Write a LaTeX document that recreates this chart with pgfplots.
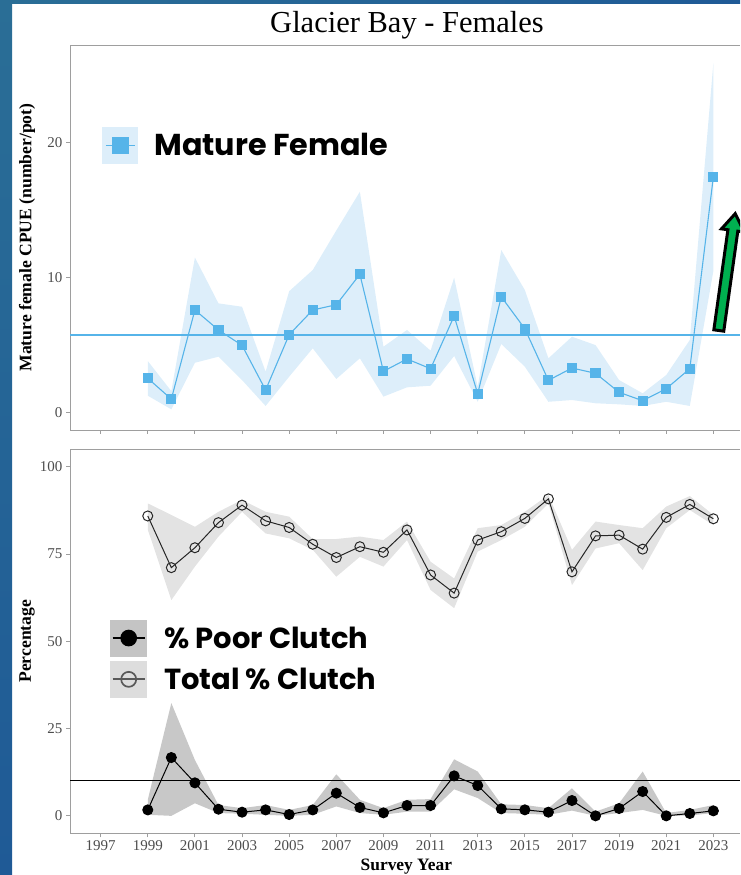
\documentclass[border=0pt]{standalone}
\usepackage{pgfplots}
\pgfplotsset{compat=1.18}
\usepackage{pgfplotstable}
\usepgfplotslibrary{fillbetween}
\usepackage{fontspec}
\setmainfont{Liberation Serif}
\newfontfamily\legfont{Poppins}
\definecolor{cpueblue}{HTML}{56B4E9}
\definecolor{bandblue}{HTML}{DDEEFA}
\definecolor{poorband}{HTML}{C8C8C8}
\definecolor{totband}{HTML}{E3E3E3}
\definecolor{legpoor}{HTML}{C4C4C4}
\definecolor{legtot}{HTML}{DDDDDD}
\definecolor{framegray}{HTML}{9E9E9E}
\definecolor{tickgray}{HTML}{4D4D4D}
\definecolor{slidetop}{HTML}{2A6E96}
\definecolor{slidemid}{HTML}{3399B5}
\definecolor{slidebot}{HTML}{1F5A96}
\definecolor{arrowgreen}{HTML}{00B050}

\pgfplotstableread{
year cpue lo hi
1999 2.55 1.26 3.83
2000 1.01 0.25 1.6
2001 7.61 3.7 11.5
2002 6.13 4.15 8.1
2003 4.99 2.42 7.85
2004 1.68 0.5 3.04
2005 5.78 2.67 9.0
2006 7.61 4.77 10.57
2007 8.0 2.5 13.5
2008 10.25 4.03 16.37
2009 3.07 1.19 4.89
2010 3.98 1.88 6.13
2011 3.26 2.0 4.6
2012 7.16 4.2 10.0
2013 1.41 0.81 1.93
2014 8.59 5.09 12.05
2015 6.22 3.41 9.09
2016 2.4 0.81 4.03
2017 3.31 0.94 5.63
2018 2.92 0.7 5.01
2019 1.51 0.62 2.42
2020 0.89 0.5 1.44
2021 1.78 0.81 2.79
2022 3.26 0.5 5.39
2023 17.48 10.5 25.9
}\cpuetab

\pgfplotstableread{
year tot lo hi
1999 85.9 82 89.5
2000 71.1 61.8 86.2
2001 76.8 71.4 82.8
2002 84.0 80 87.1
2003 89.0 87.1 90.5
2004 84.5 80.9 87.1
2005 82.6 79.5 85.7
2006 77.8 76.2 79.3
2007 74.0 68.5 79.3
2008 77.1 74.2 80
2009 75.5 71.4 79.0
2010 81.9 79 84.3
2011 69.0 64.7 72.8
2012 63.8 59.5 68.0
2013 79.0 75.7 82.4
2014 81.4 79 83.3
2015 85.2 82.8 87.1
2016 90.8 89.5 91.9
2017 69.9 66.1 76.2
2018 80.2 76.6 84.3
2019 80.4 78.1 83.3
2020 76.4 70.4 82.4
2021 85.5 82.4 88.6
2022 89.2 87.6 91.6
2023 85.1 83.3 86.2
}\tottab

\pgfplotstableread{
year poor lo hi
1999 1.7 0.3 4.6
2000 16.7 0 32.3
2001 9.45 3.6 16
2002 1.9 0.8 3.1
2003 1.05 0.6 2.2
2004 1.7 0.3 3.1
2005 0.38 0 1.7
2006 1.7 0.3 3.1
2007 6.5 2.7 11.9
2008 2.4 0.8 4.6
2009 0.86 0.3 2.2
2010 2.96 1.2 4.6
2011 2.96 1.2 4.8
2012 11.45 7.6 16.2
2013 8.68 5.1 12.7
2014 2.0 0.8 3.3
2015 1.72 0.6 3.1
2016 1.05 0.3 2.2
2017 4.39 1.5 7.9
2018 0.0 0 1.2
2019 2.1 0.8 3.6
2020 6.97 1.7 12.7
2021 0.0 0 0.8
2022 0.67 0.1 1.7
2023 1.43 0.8 3.1
}\poortab

\pgfplotsset{
  panel/.style={
    scale only axis, width=670pt, height=385pt,
    xmin=1995.7, xmax=2024.13,
    axis lines*=left,
    axis line style={draw=framegray, line width=0.9pt},
    tick style={draw=framegray, line width=0.9pt},
    major tick length=4pt, tick align=outside,
    xtick={1997,1999,...,2023},
    /pgf/number format/assume math mode=true,
    /pgf/number format/set thousands separator={},
    tick label style={font=\fontsize{15}{15}\selectfont, text=tickgray},
    ylabel style={at={(axis description cs:-0.0642,0.5)}, rotate=0, anchor=center, font=\bfseries\fontsize{17.6}{17.6}\selectfont},
    xlabel style={at={(axis description cs:0.502,0)}, anchor=base, yshift=-36.7pt, font=\bfseries\fontsize{17.4}{17.4}\selectfont},
    legend cell align=left,
    after end axis/.code={\draw[framegray, line width=0.9pt] (rel axis cs:0,1) -- (rel axis cs:1,1);},
  },
  cpueleg/.style={legend image code/.code={
    \fill[bandblue] (0pt,-17.5pt) rectangle (35pt,17.5pt);
    \draw[##1, draw=cpueblue, line width=1.7pt, mark size=7.5pt, mark repeat=2, mark phase=2] plot coordinates {(3pt,0pt) (17.5pt,0pt) (32pt,0pt)};
  }},
  poorleg/.style={legend image code/.code={
    \fill[legpoor] (0pt,-18pt) rectangle (36pt,18pt);
    \draw[##1, line width=1.7pt, mark size=7.5pt, mark repeat=2, mark phase=2] plot coordinates {(2pt,0pt) (18pt,0pt) (34pt,0pt)};
  }},
  totleg/.style={legend image code/.code={
    \fill[legtot] (0pt,-18pt) rectangle (36pt,18pt);
    \draw[##1, draw=black!65, line width=1.7pt, mark size=7.5pt, mark repeat=2, mark phase=2] plot coordinates {(2pt,0pt) (18pt,0pt) (34pt,0pt)};
  }},
}

\begin{document}
\begin{tikzpicture}
\shade[top color=slidetop, middle color=slidemid, bottom color=slidebot] (0pt,0pt) rectangle (12pt,875pt);
\shade[left color=slidetop, right color=slidebot] (0pt,871.7pt) rectangle (740pt,875pt);

% ---------- top panel ----------
\begin{axis}[panel, at={(70pt,445pt)}, anchor=south west,
  ymin=-1.28, ymax=27.24, ytick={0,10,20}, xticklabels={},
  ylabel={Mature female CPUE (number/pot)},
  title={Glacier Bay - Females},
  title style={at={(axis description cs:0.503,1)}, anchor=base, yshift=6.3pt, font=\fontsize{30.5}{30.5}\selectfont},
  legend style={at={(axis description cs:0.0478,0.739)}, anchor=west, draw=none, fill=none, inner sep=0pt,
    font=\legfont\bfseries\fontsize{30.2}{30.2}\selectfont,
    /tikz/every odd column/.append style={column sep=14pt}},
]
\addplot[draw=none, name path=chi, forget plot] table[x=year, y=hi]{\cpuetab};
\addplot[draw=none, name path=clo, forget plot] table[x=year, y=lo]{\cpuetab};
\addplot[fill=bandblue, draw=none, forget plot] fill between[of=chi and clo];
\addplot[color=cpueblue, draw=cpueblue, line width=1.2pt, forget plot] coordinates {(1995.7,5.75) (2024.13,5.75)};
\addplot[color=cpueblue, draw=cpueblue, line width=1.1pt, mark=square*, mark size=4.5pt, mark options={solid, fill=cpueblue, draw=cpueblue}, cpueleg]
  table[x=year, y=cpue]{\cpuetab};
\addlegendentry{Mature Female}
\end{axis}

% ---------- bottom panel ----------
\begin{axis}[panel, at={(70pt,41.7pt)}, anchor=south west, height=384pt,
  ymin=-5, ymax=105, ytick={0,25,50,75,100},
  ylabel={Percentage}, xlabel={Survey Year},
  legend style={at={(axis description cs:0.0597,0.4547)}, anchor=west, draw=none, fill=none, inner sep=0pt, row sep=4.3pt,
    font=\legfont\bfseries\fontsize{29}{29}\selectfont,
    /tikz/every odd column/.append style={column sep=15pt}},
]
\addplot[draw=none, name path=thi, forget plot] table[x=year, y=hi]{\tottab};
\addplot[draw=none, name path=tlo, forget plot] table[x=year, y=lo]{\tottab};
\addplot[fill=totband, draw=none, forget plot] fill between[of=thi and tlo];
\addplot[draw=none, name path=phi, forget plot] table[x=year, y=hi]{\poortab};
\addplot[draw=none, name path=plo, forget plot] table[x=year, y=lo]{\poortab};
\addplot[fill=poorband, draw=none, forget plot] fill between[of=phi and plo];
\addplot[color=black, line width=1pt, forget plot] coordinates {(1995.7,10) (2024.13,10)};
\addplot[color=black, line width=1pt, mark=*, mark size=5pt, mark options={solid, fill=black}, poorleg]
  table[x=year, y=poor]{\poortab};
\addlegendentry{\% Poor Clutch}
\addplot[color=black!85, line width=1pt, mark=o, mark size=5pt, mark options={solid}, totleg]
  table[x=year, y=tot]{\tottab};
\addlegendentry{Total \% Clutch}
\end{axis}

% ---------- annotation arrow ----------
\begin{scope}
\clip (600pt,0pt) rectangle (740pt,875pt);
\begin{scope}[shift={(718.8pt,544.5pt)}, rotate=82]
\filldraw[fill=arrowgreen, draw=black, line width=3pt, line join=miter]
  (0pt,-5pt) -- (101pt,-5pt) -- (101pt,-11.5pt) -- (118pt,0pt) -- (101pt,11.5pt) -- (101pt,5pt) -- (0pt,5pt) -- cycle;
\end{scope}
\end{scope}
\pgfresetboundingbox
\path (0pt,0pt) rectangle (740pt,875pt);
\end{tikzpicture}
\end{document}
